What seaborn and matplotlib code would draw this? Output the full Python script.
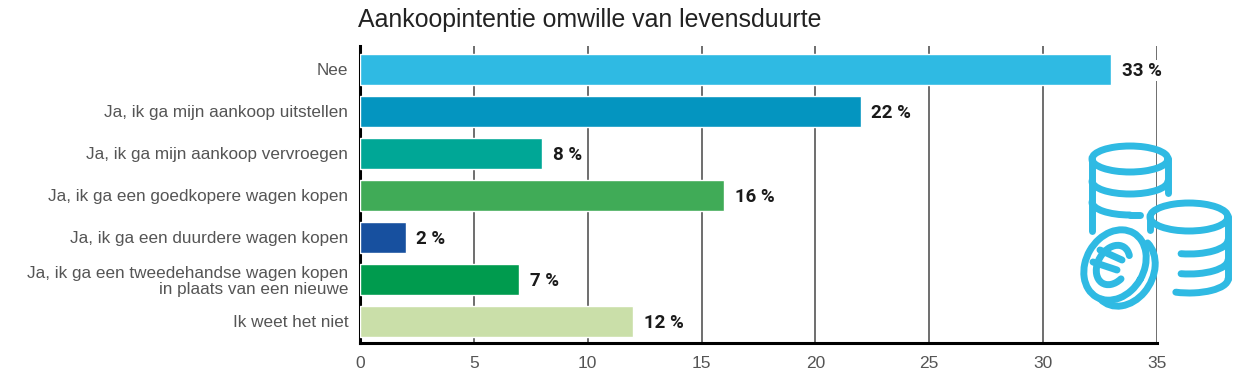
import numpy as np
import pandas as pd
import matplotlib
matplotlib.use("Agg")
import matplotlib.pyplot as plt
from matplotlib.patches import Arc
import seaborn as sns

categories = ["Nee", "Ja, ik ga mijn aankoop uitstellen", "Ja, ik ga mijn aankoop vervroegen",
              "Ja, ik ga een goedkopere wagen kopen", "Ja, ik ga een duurdere wagen kopen",
              "Ja, ik ga een tweedehandse wagen kopen\nin plaats van een nieuwe", "Ik weet het niet"]
values = [33, 22, 8, 16, 2, 7, 12]
value_labels = ["33 %", "22 %", "8 %", "16 %", "2 %", "7 %", "12 %"]
colors = ["#2FBAE3", "#0495C0", "#00A796", "#40AB57", "#17509F", "#009B4E", "#CADFA9"]
x_ticks = [0, 5, 10, 15, 20, 25, 30, 35]
title = "Aankoopintentie omwille van levensduurte"

W, H = 1238, 372
sns.set_theme(style="white")
plt.rcParams['font.family'] = ['Liberation Sans', 'DejaVu Sans']
fig = plt.figure(figsize=(W/100, H/100), dpi=100, facecolor="white")
ax = fig.add_axes([360/W, 1-343/H, (1157-360)/W, (343-46)/H])
df = pd.DataFrame({"cat": categories, "val": values})
sns.barplot(data=df, x="val", y="cat", hue="cat", palette=colors, dodge=False,
            width=0.74, legend=False, ax=ax, saturation=1, zorder=3)
ax.set_xlim(0, 35)
ax.set_ylim(6.52, -0.55)
ax.set_xlabel(""); ax.set_ylabel("")
ax.set_xticks(x_ticks)
ax.xaxis.grid(True, color="#555555", lw=1.2, zorder=0)
ax.set_axisbelow(True)
for s in ("top", "right"):
    ax.spines[s].set_visible(False)
for s in ("left", "bottom"):
    ax.spines[s].set_color("black"); ax.spines[s].set_linewidth(2.2)
ax.tick_params(axis="x", length=0, pad=9, labelsize=12.5, labelcolor="#555555")
ax.tick_params(axis="y", length=0, pad=8.5, labelsize=12.3, labelcolor="#555555")
for lab in ax.get_yticklabels():
    lab.set_linespacing(1.1)
for i, (v, t) in enumerate(zip(values, value_labels)):
    ax.annotate(t, (v, i), xytext=(7.5, -1.2), textcoords="offset points", va="center", ha="left",
                fontsize=13.5, fontweight="bold", color="#1a1a1a",
                family=["Roboto", "Liberation Sans"], zorder=5,
                bbox=dict(fc="white", ec="none", pad=1.0))
fig.text(358/W, 1-20/H, title, fontsize=17.9, color="#222222", va="center", ha="left")

# decorative coin icon drawn in pixel space
ic = fig.add_axes([0, 0, 1, 1], facecolor="none")
ic.set_xlim(0, W); ic.set_ylim(H, 0); ic.axis("off")
C = "#2FBAE3"; LW = 5.0
def seg(xs, ys):
    ic.plot(xs, ys, color=C, lw=LW, solid_capstyle="round")
def arc(cx, cy, w, h, a1=0, a2=360, ang=0):
    ic.add_patch(Arc((cx, cy), w, h, angle=ang, theta1=a1, theta2=a2, color=C, lw=LW, capstyle="round"))
# left stack
arc(1130, 159, 76, 26)
seg([1092, 1092], [159, 231]); seg([1168, 1168], [159, 193])
arc(1130, 181, 76, 26, 0, 180)
arc(1130, 202, 76, 26, 90, 180)
seg([1130, 1140], [215, 215])
# right stack
arc(1189, 217, 78, 28)
seg([1150, 1150], [217, 230]); seg([1228, 1228], [217, 279])
arc(1189, 240, 78, 28, 0, 120)
arc(1189, 260, 78, 28, 0, 120)
arc(1189, 279, 78, 28, 0, 135)
# coin
arc(1115, 265, 58, 74, ang=30)
arc(1124, 271, 58, 74, -80, 100, ang=30)
arc(1113, 265, 30, 42, 30, 300, ang=30)
seg([1100, 1122], [250, 260]); seg([1093, 1117], [262, 270])

fig.savefig("out.png", dpi=100, facecolor="white")
